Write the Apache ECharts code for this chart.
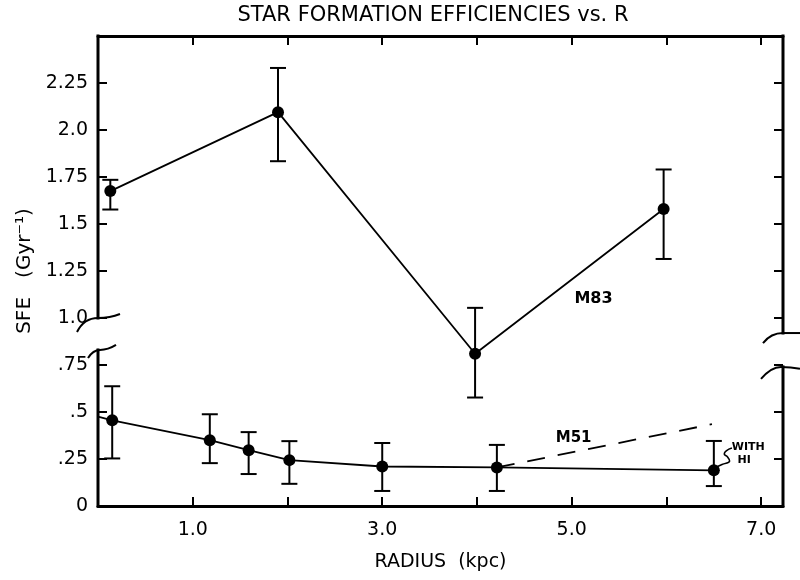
<!DOCTYPE html>
<html><head><meta charset="utf-8">
<script src="https://cdn.jsdelivr.net/npm/echarts@6/dist/echarts.min.js"></script>
<style>html,body{margin:0;padding:0;background:#fff}#c{width:800px;height:580px}</style>
</head><body><div id="c"></div><script>
// ---- text ----
const chartTitle = 'STAR FORMATION EFFICIENCIES vs. R';
const xName = 'RADIUS  (kpc)';
const yName = 'SFE   (Gyr\u207B\u00B9)';
const xTickValues = [1, 3, 5, 7];
const xTickLabels = ['1.0', '3.0', '5.0', '7.0'];
const yTickValues = [0, 0.25, 0.5, 0.75, 1.0, 1.25, 1.5, 1.75, 2.0, 2.25];
const yTickLabels = ['0', '.25', '.5', '.75', '1.0', '1.25', '1.5', '1.75', '2.0', '2.25'];

// ---- M83 ----
const m83Radius = [0.13, 1.90, 3.98, 5.97];
const m83Sfe    = [1.675, 2.095, 0.81, 1.58];
const m83Low    = [1.577, 1.834, 0.577, 1.314];
const m83High   = [1.735, 2.33, 1.054, 1.79];

// ---- M51 ----
const m51AxisStart = [0, 0.475];
const m51Radius = [0.15, 1.18, 1.59, 2.02, 3.0, 4.21, 6.5];
const m51Sfe    = [0.456, 0.35, 0.297, 0.244, 0.21, 0.205, 0.19];
const m51Low    = [0.253, 0.228, 0.17, 0.118, 0.08, 0.08, 0.106];
const m51High   = [0.637, 0.488, 0.393, 0.345, 0.335, 0.325, 0.346];

// ---- M51 with HI (dashed) ----
const m51HiRadius = [4.21, 6.48];
const m51HiSfe    = [0.205, 0.435];

// ---- pointer squiggle to "WITH HI" ----
const squiggleRadius = [6.505, 6.586, 6.666, 6.645, 6.610, 6.631, 6.691];
const squiggleSfe    = [0.203, 0.221, 0.240, 0.261, 0.276, 0.293, 0.308];

// ---- annotations ----
const annText   = ['M83', 'M51', 'WITH', 'HI'];
const annRadius = [5.23, 5.02, 6.69, 6.75];
const annSfe    = [1.10, 0.36, 0.315, 0.243];
const annSize   = [16, 15, 11, 11];
const annAlign  = ['center', 'center', 'left', 'left'];

// ---- axis range and breaks ----
const xMin = 0, xMax = 7.23, yMin = 0, yMax = 2.5;
const leftBreak = [0.83, 1.0];
const rightBreak = [0.74, 0.92];

const FONT = 'DejaVu Sans';
const chart = echarts.init(document.getElementById('c'));

function errorItem(params, api) {
  const x = api.value(0);
  const lo = api.coord([x, api.value(1)]);
  const hi = api.coord([x, api.value(2)]);
  const hw = 8;
  const style = { stroke: '#000', lineWidth: 2, fill: null };
  return { type: 'group', children: [
    { type: 'line', shape: { x1: lo[0], y1: lo[1], x2: hi[0], y2: hi[1] }, style },
    { type: 'line', shape: { x1: lo[0] - hw, y1: lo[1], x2: lo[0] + hw, y2: lo[1] }, style },
    { type: 'line', shape: { x1: hi[0] - hw, y1: hi[1], x2: hi[0] + hw, y2: hi[1] }, style }
  ]};
}

// frame sides with gaps + break squiggles
const frameData = [
  [xMin, yMax, leftBreak[1], 0], [xMin, leftBreak[0], yMin, 0],
  [xMax, yMax, rightBreak[1], 1], [xMax, rightBreak[0], yMin, 1]
];
function frameItem(params, api) {
  const x = api.value(0);
  const a = api.coord([x, api.value(1)]);
  const b = api.coord([x, api.value(2)]);
  return { type: 'line', shape: { x1: a[0], y1: a[1] - 1.5, x2: b[0], y2: b[1] + 1.5 },
    style: { stroke: '#000', lineWidth: 3 } };
}
const breakData = [
  [xMin, leftBreak[1], 0], [xMin, leftBreak[0], 1],
  [xMax, rightBreak[1], 2], [xMax, rightBreak[0], 3]
];
const breakShapes = [
  [[-21, 14, -14, 0, 0, 0], [0, 0, 12, 0, 22, -4]],
  [[-10, 8, -5, 0, 2, 0], [2, 0, 10, 0, 18, -5]],
  [[-20, 10, -12, 0, 0, 0], [0, 0, 8, 0, 17, 0]],
  [[-22, 12, -12, 0, -2, 0], [-2, 0, 8, 0, 17, 2]]
];
function breakItem(params, api) {
  const p = api.coord([api.value(0), api.value(1)]);
  const segs = breakShapes[api.value(2)];
  return { type: 'group', children: segs.map(s => ({
    type: 'bezierCurve',
    shape: { x1: p[0] + s[0], y1: p[1] + s[1], cpx1: p[0] + s[2], cpy1: p[1] + s[3], x2: p[0] + s[4], y2: p[1] + s[5] },
    style: { stroke: '#000', lineWidth: 2, fill: null }
  }))};
}
function annItem(params, api) {
  const i = params.dataIndex;
  const p = api.coord([api.value(0), api.value(1)]);
  return { type: 'text', x: p[0], y: p[1], style: {
    text: annText[i], fill: '#000', align: annAlign[i], verticalAlign: 'middle',
    font: 'bold ' + annSize[i] + 'px "' + FONT + '"' } };
}

const zip = (a, b) => a.map((v, i) => [v, b[i]]);
const m51LineData = [{ value: m51AxisStart, symbol: 'none' }].concat(zip(m51Radius, m51Sfe));

const xLabelFmt = v => {
  const i = xTickValues.findIndex(t => Math.abs(t - v) < 1e-6);
  return i >= 0 ? xTickLabels[i] : '';
};
const yLabelFmt = v => {
  const i = yTickValues.findIndex(t => Math.abs(t - v) < 1e-6);
  return i >= 0 ? yTickLabels[i] : '';
};
const tick = { inside: true, length: 9, lineStyle: { color: '#000', width: 2 } };

chart.setOption({
  animation: false,
  backgroundColor: '#fff',
  title: { text: chartTitle, left: 428, top: 0, textAlign: 'center',
    textStyle: { fontFamily: FONT, fontSize: 21, fontWeight: 'normal', color: '#000' } },
  grid: { left: 98, right: 17, top: 36, bottom: 74, containLabel: false, outerBoundsMode: 'none' },
  xAxis: [
    { type: 'value', position: 'bottom', min: xMin, max: xMax, interval: 1,
      axisLine: { show: true, onZero: false, lineStyle: { color: '#000', width: 3 } },
      axisTick: tick, splitLine: { show: false },
      axisLabel: { formatter: xLabelFmt, color: '#000', fontFamily: FONT, fontSize: 19, margin: 15 },
      name: xName, nameLocation: 'middle', nameGap: 47,
      nameTextStyle: { fontFamily: FONT, fontSize: 19, color: '#000' } },
    { type: 'value', position: 'top', min: xMin, max: xMax, interval: 1,
      axisLine: { show: true, onZero: false, lineStyle: { color: '#000', width: 3 } },
      axisTick: tick, splitLine: { show: false }, axisLabel: { show: false } }
  ],
  yAxis: [
    { type: 'value', position: 'left', min: yMin, max: yMax, interval: 0.25,
      axisLine: { show: false, onZero: false }, axisTick: tick, splitLine: { show: false },
      axisLabel: { formatter: yLabelFmt, color: '#000', fontFamily: FONT, fontSize: 19, margin: 10 },
      name: yName, nameLocation: 'middle', nameGap: 63, nameRotate: 90,
      nameTextStyle: { fontFamily: FONT, fontSize: 20, color: '#000' } },
    { type: 'value', position: 'right', min: yMin, max: yMax, interval: 0.25,
      axisLine: { show: false, onZero: false }, axisTick: tick, splitLine: { show: false }, axisLabel: { show: false } }
  ],
  series: [
    { type: 'custom', name: 'frame', renderItem: frameItem, data: frameData, clip: false, silent: true, z: 1 },
    { type: 'custom', name: 'breaks', renderItem: breakItem, data: breakData, clip: false, silent: true, z: 1 },
    { type: 'line', name: 'M83', data: zip(m83Radius, m83Sfe), symbol: 'circle', symbolSize: 12,
      itemStyle: { color: '#000' }, lineStyle: { color: '#000', width: 1.8 }, z: 3 },
    { type: 'custom', name: 'M83 err', renderItem: errorItem,
      data: m83Radius.map((r, i) => [r, m83Low[i], m83High[i]]), z: 2 },
    { type: 'line', name: 'M51', data: m51LineData, symbol: 'circle', symbolSize: 12,
      itemStyle: { color: '#000' }, lineStyle: { color: '#000', width: 1.8 }, z: 3 },
    { type: 'custom', name: 'M51 err', renderItem: errorItem,
      data: m51Radius.map((r, i) => [r, m51Low[i], m51High[i]]), z: 2 },
    { type: 'line', name: 'M51 with HI', data: zip(m51HiRadius, m51HiSfe), symbol: 'none',
      lineStyle: { color: '#000', width: 1.8, type: [18, 13] }, z: 2 },
    { type: 'line', name: 'pointer', data: zip(squiggleRadius, squiggleSfe), symbol: 'none', smooth: true,
      lineStyle: { color: '#000', width: 1.6 }, z: 2 },
    { type: 'custom', name: 'labels', renderItem: annItem, clip: false, silent: true, z: 4,
      data: zip(annRadius, annSfe) }
  ]
});
</script></body></html>
